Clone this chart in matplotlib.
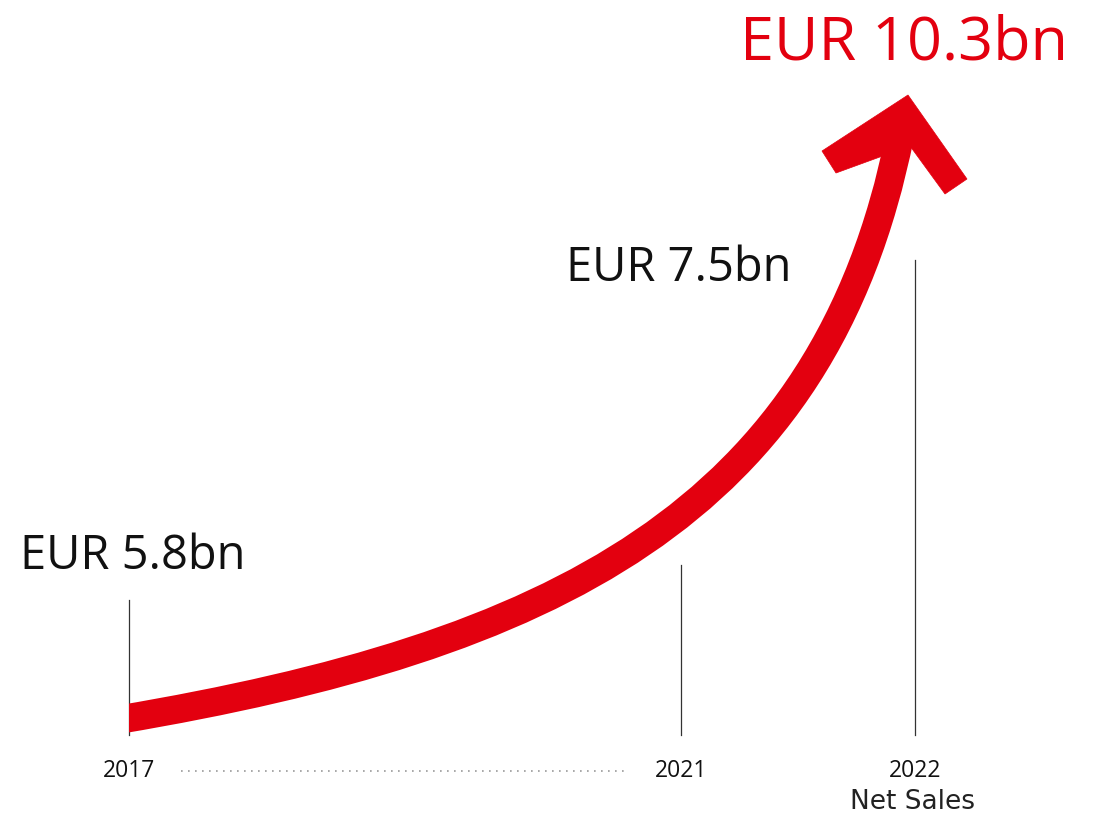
import matplotlib
matplotlib.use("Agg")
import matplotlib.pyplot as plt
from matplotlib.path import Path
from matplotlib.patches import PathPatch, Polygon, Rectangle

# ---- data ----
years = ["2017", "2021", "2022"]
sales = [5.8, 7.5, 10.3]
value_labels = ["EUR 5.8bn", "EUR 7.5bn", "EUR 10.3bn"]
axis_title = "Net Sales"

# ---- layout (pixel canvas) ----
W, H = 1097, 815
RED = "#E3000F"
year_x = [129, 681, 915]
line_top = [600, 565, 260]
line_bottom = 735
label_pos = [(20, 569), (566, 281), (740, 60)]
label_size = [33.8, 33.8, 44]
label_color = ["#111111", "#111111", RED]

fig = plt.figure(figsize=(W / 100, H / 100), dpi=100)
ax = fig.add_axes([0, 0, 1, 1])
ax.set_xlim(0, W)
ax.set_ylim(H, 0)
ax.axis("off")

# vertical year markers
for x, top in zip(year_x, line_top):
    ax.plot([x, x], [top, line_bottom], color="#333333", lw=0.9, zorder=1)

# growth arrow (decorative curve)
verts = [(120, 719.5), (549, 647), (824, 515), (900, 135)]
codes = [Path.MOVETO, Path.CURVE4, Path.CURVE4, Path.CURVE4]
arrow = PathPatch(Path(verts, codes), facecolor="none", edgecolor=RED,
                  lw=20.5, capstyle="butt", zorder=2)
ax.add_patch(arrow)
clip = Rectangle((129, 0), W, H, transform=ax.transData, facecolor="none", edgecolor="none")
ax.add_patch(clip)
arrow.set_clip_path(clip)
head = [(908, 95), (967, 179), (945, 194), (910, 146), (836, 173), (822, 151)]
ax.add_patch(Polygon(head, closed=True, facecolor=RED, edgecolor=RED, lw=0.5, zorder=3))

# value labels
for lab, (x, y), s, c in zip(value_labels, label_pos, label_size, label_color):
    ax.text(x, y, lab, fontsize=s, color=c, ha="left", va="baseline",
            family=["Open Sans", "DejaVu Sans"], zorder=4)

# year labels
for yr, x in zip(years, year_x):
    ax.text(x, 771, yr, fontsize=16.5, color="#111111", ha="center", va="center",
            family=["Open Sans", "DejaVu Sans"])
ax.text(912, 802, axis_title, fontsize=19, color="#222222", ha="center", va="center",
        family=["DejaVu Sans"])

# dotted connector
ax.plot([181, 625], [771, 771], color="#9a9a9a", lw=1.2, linestyle=(0, (1, 3.2)))

fig.savefig("out.png", dpi=100, facecolor="white")
